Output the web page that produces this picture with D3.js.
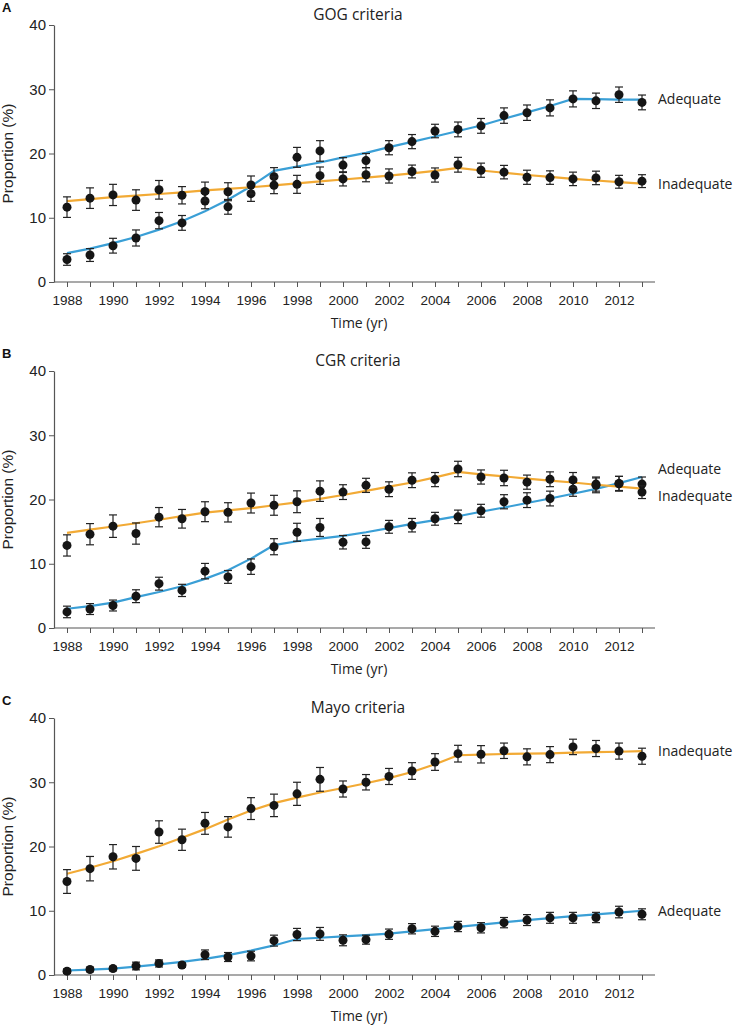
<!DOCTYPE html>
<html>
<head>
<meta charset="utf-8">
<script src="https://cdn.jsdelivr.net/npm/d3@7"></script>
<style>
  html, body { margin: 0; padding: 0; background: #fff; }
  svg { display: block; }
</style>
</head>
<body>
<svg id="chart" width="733" height="1026"></svg>
<script>
// ---------------- DATA ----------------
const years = [1988,1989,1990,1991,1992,1993,1994,1995,1996,1997,1998,1999,2000,2001,2002,2003,2004,2005,2006,2007,2008,2009,2010,2011,2012,2013];
const xTickYears = [1988,1990,1992,1994,1996,1998,2000,2002,2004,2006,2008,2010,2012];
const yTicks = [0,10,20,30,40];
const panelLetters = ["A","B","C"];
const panelTitles = ["GOG criteria","CGR criteria","Mayo criteria"];
const seriesNames = ["Adequate","Inadequate"];

// Panel A – GOG
const gogAdeq    = [3.5,4.2,5.65,6.85,9.55,9.2,12.6,11.7,13.75,16.4,19.4,20.4,18.2,18.9,20.9,21.85,23.5,23.75,24.3,25.9,26.35,27.1,28.5,28.2,29.15,27.95];
const gogAdeqErr = [0.9,1.0,1.15,1.25,1.27,1.15,1.2,1.15,1.2,1.4,1.55,1.6,1.15,1.1,1.1,1.1,1.05,1.15,1.15,1.2,1.2,1.25,1.25,1.2,1.2,1.15];
const gogAdeqFit = [4.5,5.2,6.05,7.0,8.15,9.45,11.0,12.8,14.9,17.3,17.95,18.6,19.4,20.1,21.0,21.8,22.65,23.5,24.35,25.4,26.4,27.4,28.5,28.45,28.4,28.4];
const gogInad    = [11.65,13.05,13.55,12.75,14.35,13.5,14.1,14.05,15.1,15.05,15.2,16.55,16.05,16.7,16.5,17.2,16.65,18.25,17.4,17.1,16.3,16.25,16.05,16.2,15.6,15.7];
const gogInadErr = [1.6,1.6,1.65,1.6,1.45,1.35,1.45,1.4,1.4,1.3,1.4,1.35,1.1,1.1,1.1,1.0,1.1,1.15,1.1,1.05,1.1,1.05,1.05,1.05,1.0,1.0];
const gogInadFit = [12.6,12.9,13.2,13.45,13.7,13.95,14.25,14.5,14.75,15.05,15.35,15.65,15.95,16.25,16.55,16.9,17.3,17.75,17.35,17.0,16.65,16.35,16.05,15.8,15.55,15.3];

// Panel B – CGR
const cgrAdeq    = [2.5,2.95,3.5,4.95,6.9,5.85,8.85,7.95,9.55,12.65,14.9,15.65,13.35,13.4,15.75,16.0,17.0,17.3,18.25,19.65,19.9,20.15,21.6,22.2,22.45,22.4];
const cgrAdeqErr = [0.9,0.85,0.85,1.0,1.0,0.95,1.2,1.0,1.2,1.25,1.4,1.4,1.05,1.0,1.0,1.05,1.0,1.05,1.0,1.1,1.15,1.15,1.1,1.15,1.15,1.1];
const cgrAdeqFit = [3.0,3.4,3.95,4.8,5.6,6.5,7.65,9.0,10.8,12.9,13.5,13.9,14.35,14.9,15.55,16.2,16.8,17.4,18.1,18.75,19.45,20.15,20.9,21.65,22.55,23.5];
const cgrInad    = [12.85,14.6,15.85,14.7,17.25,17.0,18.1,18.0,19.45,19.1,19.65,21.3,21.15,22.2,21.6,23.0,23.1,24.75,23.5,23.35,22.7,23.15,23.05,22.4,22.5,21.15];
const cgrInadErr = [1.65,1.65,1.75,1.65,1.5,1.45,1.55,1.5,1.55,1.55,1.7,1.6,1.15,1.1,1.15,1.15,1.1,1.2,1.1,1.2,1.1,1.15,1.15,1.1,1.1,1.0];
const cgrInadFit = [14.8,15.3,15.8,16.3,16.85,17.4,17.95,18.3,18.65,19.1,19.55,20.1,20.7,21.35,22.0,22.65,23.45,24.3,23.9,23.6,23.25,22.95,22.65,22.3,22.0,21.7];

// Panel C – Mayo
const mayoAdeq    = [0.6,0.85,1.0,1.4,1.8,1.55,3.15,2.8,2.95,5.35,6.3,6.4,5.4,5.5,6.35,7.2,6.8,7.55,7.35,8.15,8.55,8.9,8.9,8.95,9.8,9.45];
const mayoAdeqErr = [0.35,0.35,0.35,0.6,0.55,0.35,0.75,0.7,0.75,0.85,0.95,1.0,0.85,0.7,0.8,0.8,0.8,0.8,0.8,0.8,0.85,0.85,0.85,0.8,0.9,0.85];
const mayoAdeqFit = [0.7,0.85,1.0,1.3,1.65,2.05,2.5,3.1,3.8,4.6,5.6,5.8,6.0,6.2,6.45,6.8,7.15,7.5,7.85,8.2,8.55,8.85,9.15,9.45,9.7,10.0];
const mayoInad    = [14.55,16.55,18.4,18.15,22.25,21.05,23.6,23.05,25.9,26.4,28.2,30.45,28.95,30.0,30.9,31.75,33.15,34.45,34.35,34.9,33.95,34.3,35.5,35.25,34.85,34.05];
const mayoInadErr = [1.85,1.9,1.9,1.85,1.75,1.65,1.7,1.6,1.7,1.75,1.8,1.85,1.25,1.2,1.25,1.3,1.3,1.3,1.35,1.2,1.25,1.25,1.2,1.25,1.25,1.25];
const mayoInadFit = [15.75,16.7,17.7,18.85,20.05,21.35,22.7,24.2,25.6,26.75,27.6,28.4,29.1,29.85,30.65,31.6,32.8,34.2,34.3,34.4,34.45,34.5,34.6,34.7,34.75,34.85];

// ---------------- LAYOUT ----------------
const colors = { Adequate: "#3a9fd6", Inadequate: "#f2aa35" };
const panels = [
  { letter: panelLetters[0], title: panelTitles[0], top: 25,
    series: [
      { name: seriesNames[0], v: gogAdeq, e: gogAdeqErr, f: gogAdeqFit },
      { name: seriesNames[1], v: gogInad, e: gogInadErr, f: gogInadFit } ] },
  { letter: panelLetters[1], title: panelTitles[1], top: 371,
    series: [
      { name: seriesNames[0], v: cgrAdeq, e: cgrAdeqErr, f: cgrAdeqFit },
      { name: seriesNames[1], v: cgrInad, e: cgrInadErr, f: cgrInadFit } ] },
  { letter: panelLetters[2], title: panelTitles[2], top: 718,
    series: [
      { name: seriesNames[0], v: mayoAdeq, e: mayoAdeqErr, f: mayoAdeqFit },
      { name: seriesNames[1], v: mayoInad, e: mayoInadErr, f: mayoInadFit } ] }
];

const plotH = 257;
const axisLeft = 54, axisRight = 655;
const x = d3.scaleLinear().domain([1988, 2013]).range([67, 642]);
const svg = d3.select("#chart");
const txtFont = "'Open Sans', 'Noto Sans', sans-serif";
const tickFont = "'Liberation Sans', Arial, sans-serif";

panels.forEach(p => {
  const y = d3.scaleLinear().domain([0, 40]).range([p.top + plotH, p.top]);
  const g = svg.append("g");

  // panel letter
  g.append("text").attr("x", 2).attr("y", p.top - 13)
    .attr("font-family", "'Liberation Sans', Arial, sans-serif")
    .attr("font-weight", "bold").attr("font-size", 13).attr("fill", "#111")
    .text(p.letter);

  // title
  g.append("text").attr("x", 358).attr("y", p.top - 5)
    .attr("text-anchor", "middle").attr("font-family", txtFont)
    .attr("font-size", 15.5).attr("fill", "#222").text(p.title);

  // y axis
  const ya = g.append("g").attr("transform", `translate(${axisLeft},0)`)
    .call(d3.axisLeft(y).tickValues(yTicks).tickSize(5).tickPadding(3).tickSizeOuter(0));
  ya.select(".domain").attr("stroke", "#555").attr("stroke-width", 1.2);
  ya.selectAll(".tick line").attr("stroke", "#555");
  ya.selectAll(".tick text").attr("font-family", tickFont).attr("font-size", 15).attr("fill", "#222");

  // x axis
  const xa = g.append("g").attr("transform", `translate(0,${p.top + plotH})`)
    .call(d3.axisBottom(x).tickValues(years).tickSize(5).tickPadding(8)
      .tickFormat(d => xTickYears.includes(d) ? String(d) : ""));
  xa.select(".domain").remove();
  xa.selectAll(".tick line").attr("stroke", "#555");
  xa.selectAll(".tick text").attr("font-family", tickFont).attr("font-size", 13.5).attr("fill", "#222");
  xa.append("line").attr("x1", axisLeft).attr("x2", axisRight).attr("y1", 0).attr("y2", 0)
    .attr("stroke", "#555").attr("stroke-width", 1.2);

  // axis titles
  g.append("text")
    .attr("transform", `translate(13,${p.top + plotH / 2}) rotate(-90)`)
    .attr("text-anchor", "middle").attr("font-family", tickFont)
    .attr("font-size", 15.5).attr("fill", "#222").text("Proportion (%)");
  g.append("text").attr("x", 359).attr("y", p.top + plotH + 46)
    .attr("text-anchor", "middle").attr("font-family", txtFont)
    .attr("font-size", 14).attr("fill", "#222").text("Time (yr)");

  // fitted lines
  const line = d3.line().x((d, i) => x(years[i])).y(d => y(d));
  p.series.forEach(s => {
    g.append("path").datum(s.f).attr("d", line)
      .attr("fill", "none").attr("stroke", colors[s.name]).attr("stroke-width", 2.2);
  });

  // error bars + points
  p.series.forEach(s => {
    const eg = g.append("g");
    years.forEach((yr, i) => {
      const cx = x(yr), lo = y(s.v[i] - s.e[i]), hi = y(s.v[i] + s.e[i]);
      eg.append("line").attr("x1", cx).attr("x2", cx).attr("y1", lo).attr("y2", hi)
        .attr("stroke", "#222").attr("stroke-width", 1.2);
      eg.append("line").attr("x1", cx - 4).attr("x2", cx + 4).attr("y1", lo).attr("y2", lo)
        .attr("stroke", "#222").attr("stroke-width", 1.2);
      eg.append("line").attr("x1", cx - 4).attr("x2", cx + 4).attr("y1", hi).attr("y2", hi)
        .attr("stroke", "#222").attr("stroke-width", 1.2);
    });
    eg.selectAll("circle").data(s.v).join("circle")
      .attr("cx", (d, i) => x(years[i])).attr("cy", d => y(d))
      .attr("r", 4.5).attr("fill", "#151515");
  });

  // end labels, with simple collision avoidance
  const labs = p.series.map(s => ({ name: s.name, y: y(s.f[s.f.length - 1]) }));
  labs.sort((a, b) => a.y - b.y);
  const minGap = 27;
  if (labs[1].y - labs[0].y < minGap) {
    const mid = (labs[0].y + labs[1].y) / 2;
    labs[0].y = mid - minGap / 2; labs[1].y = mid + minGap / 2;
  }
  labs.forEach(l => {
    g.append("text").attr("x", 658).attr("y", l.y).attr("dy", "0.35em")
      .attr("font-family", txtFont).attr("font-size", 14).attr("fill", "#222")
      .text(l.name);
  });
});
</script>
</body>
</html>
